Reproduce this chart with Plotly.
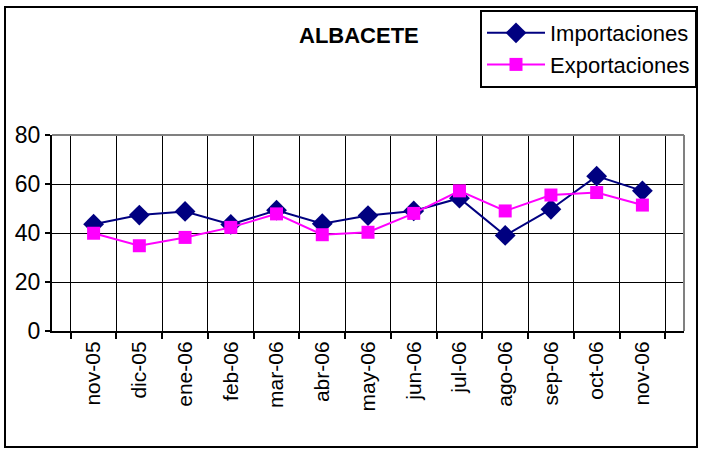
from plotly import graph_objects as go

# Monthly data
months = ['nov-05', 'dic-05', 'ene-06', 'feb-06', 'mar-06', 'abr-06', 'may-06',
          'jun-06', 'jul-06', 'ago-06', 'sep-06', 'oct-06', 'nov-06']
importaciones = [43.6, 47.3, 48.8, 43.5, 49.3, 43.8, 47.1, 49.0, 54.2, 39.0, 49.7, 63.2, 57.2]
exportaciones = [39.9, 34.8, 38.2, 42.3, 47.8, 39.3, 40.3, 48.0, 57.2, 49.0, 55.5, 56.5, 51.4]
y_ticks = [0, 20, 40, 60, 80]

NAVY = '#000080'
MAGENTA = '#FF00FF'
FONT = 'Liberation Sans, Arial, sans-serif'

W, H = 701, 452
L, R, T, B = 52, 17, 135, 121
plot_w = W - L - R
plot_h = H - T - B


def px_to_paper_x(px):
    return (px - L) / plot_w


def px_to_paper_y(py):
    return (H - B - py) / plot_h


fig = go.Figure()
fig.add_trace(go.Scatter(x=months, y=importaciones, name='Importaciones', mode='lines+markers',
                         line=dict(color=NAVY, width=2),
                         marker=dict(symbol='diamond', size=16, color=NAVY)))
fig.add_trace(go.Scatter(x=months, y=exportaciones, name='Exportaciones', mode='lines+markers',
                         line=dict(color=MAGENTA, width=2),
                         marker=dict(symbol='square', size=13, color=MAGENTA)))

# outer chart border
fig.add_shape(type='rect', xref='paper', yref='paper',
              x0=px_to_paper_x(5), x1=px_to_paper_x(697),
              y0=px_to_paper_y(447), y1=px_to_paper_y(7),
              line=dict(color='black', width=2))
# grey plot-area edges on top and right
fig.add_shape(type='line', xref='paper', yref='paper', x0=0, x1=1, y0=1, y1=1,
              line=dict(color='#808080', width=2))
fig.add_shape(type='line', xref='paper', yref='paper', x0=1, x1=1, y0=0, y1=1,
              line=dict(color='#808080', width=2))

fig.add_annotation(text='<b>ALBACETE</b>', xref='paper', yref='paper',
                   x=px_to_paper_x(359), y=px_to_paper_y(35), showarrow=False,
                   xanchor='center', yanchor='middle',
                   font=dict(family=FONT, size=22, color='black'))

fig.update_layout(
    width=W, height=H,
    margin=dict(l=L, r=R, t=T, b=B, autoexpand=False),
    paper_bgcolor='white',
    plot_bgcolor='white',
    legend=dict(xref='container', yref='container', x=480 / W, y=1 - 10 / H,
                xanchor='left', yanchor='top',
                bordercolor='black', borderwidth=2, bgcolor='white',
                font=dict(family=FONT, size=22, color='black'),
                tracegroupgap=0, itemwidth=58),
    xaxis=dict(type='category', tickson='boundaries', showgrid=True, gridcolor='black', gridwidth=1,
               showline=True, linecolor='black', linewidth=2, automargin=False,
               ticks='outside', ticklen=6, tickcolor='black', tickwidth=2,
               tickangle=-90, tickfont=dict(family=FONT, size=21, color='black')),
    yaxis=dict(range=[0, 80], tickvals=y_ticks, showgrid=True, gridcolor='black', gridwidth=1,
               showline=True, linecolor='black', linewidth=2, zeroline=False, automargin=False,
               ticks='outside', ticklen=5, tickcolor='black', tickwidth=2,
               tickfont=dict(family=FONT, size=23, color='black')),
)

# drop the browser's default body margin so the figure sits at the window origin
fig.write_html("out.html", config={'displayModeBar': False},
               post_script="document.body.style.margin='0';")
